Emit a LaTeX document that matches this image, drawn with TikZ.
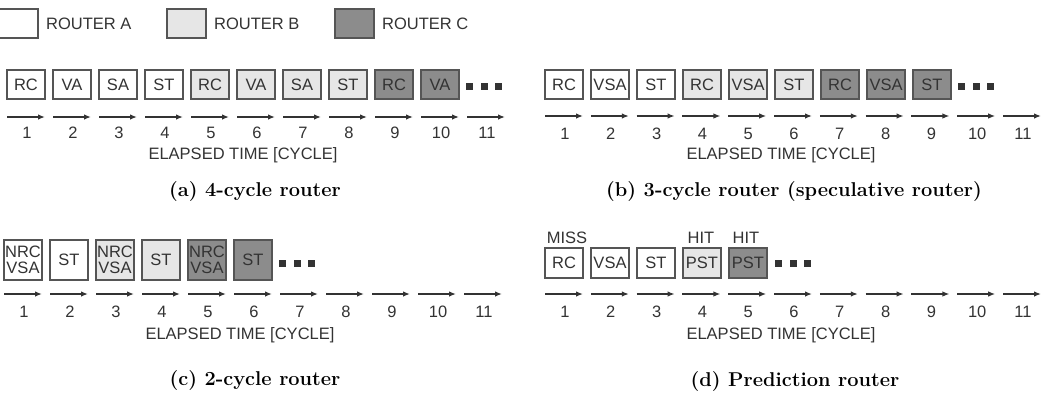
\documentclass[tikz,border=0pt]{standalone}
\usepackage{fontspec}
\setsansfont{Liberation Sans}
\usetikzlibrary{arrows.meta, positioning}
\definecolor{routerb}{HTML}{E6E6E6}
\definecolor{routerc}{HTML}{8C8C8C}
\definecolor{edgegray}{HTML}{555555}
\definecolor{inkgray}{HTML}{333333}
\tikzset{
	stagea/.style={
			draw=edgegray,
			line width=1.7pt,
			fill=white,
			minimum width=38.5pt,
			minimum height=29.5pt,
			inner sep=0pt,
			align=center,
			text=inkgray,
			font=\sffamily\fontsize{16.5}{16.5}\selectfont
		},
	stageb/.style={
			stagea,
			fill=routerb
		},
	stagec/.style={
			stagea,
			fill=routerc,
			text=black!80
		},
	tallstage/.style={
			minimum height=40.5pt
		},
	dotsq/.style={
			fill=inkgray,
			minimum size=7pt,
			inner sep=0pt
		},
	timearrow/.style={
			line width=1.3pt,
			draw=inkgray,
			-{Latex[length=7pt,width=5.5pt]}
		},
	plainlabel/.style={
			inner sep=0pt,
			text=inkgray,
			font=\sffamily\fontsize{16.5}{16.5}\selectfont
		},
	captionlabel/.style={
			inner sep=0pt,
			font=\bfseries\fontsize{20}{22}\selectfont
		}
}
\begin{document}
\begin{tikzpicture}[x=1pt, y=-1pt]
\useasboundingbox (0,0) rectangle (1052,413);

% legend
\node[stagea] (lega) at (18.5,23.5) {};
\node[plainlabel, anchor=west] (legatext) at (46,24) {ROUTER A};
\node[stageb] (legb) at (186.5,23.5) {};
\node[plainlabel, anchor=west] (legbtext) at (214,24) {ROUTER B};
\node[stagec] (legc) at (354.5,23.5) {};
\node[plainlabel, anchor=west] (legctext) at (382,24) {ROUTER C};

% (a)
\foreach \lbl/\sty [count=\i] in {RC/stagea, VA/stagea, SA/stagea, ST/stagea,
  RC/stageb, VA/stageb, SA/stageb, ST/stageb, RC/stagec, VA/stagec}
  \node[\sty] (a\i) at ({26+46*(\i-1)},84.5) {\lbl};
\foreach \k in {0,1,2}
  \node[dotsq] (adot\k) at ({469.5+14.5*\k},86) {};
\foreach \i in {1,...,11} {
  \coordinate (as\i) at ({7+46*(\i-1)},117);
  \coordinate (ae\i) at ({45+46*(\i-1)},117);
  \draw[timearrow] (as\i) -- (ae\i);
  \node[plainlabel] (anum\i) at ({27+46*(\i-1)},133) {\i};
}
\node[plainlabel] (atime) at (243,155) {ELAPSED TIME [CYCLE]};
\node[captionlabel] (acap) at (255,192) {(a) 4-cycle router};

% (b)
\foreach \lbl/\sty [count=\i] in {RC/stagea, VSA/stagea, ST/stagea,
  RC/stageb, VSA/stageb, ST/stageb, RC/stagec, VSA/stagec, ST/stagec}
  \node[\sty] (b\i) at ({564+46*(\i-1)},84.5) {\lbl};
\foreach \k in {0,1,2}
  \node[dotsq] (bdot\k) at ({961.5+14.5*\k},86) {};
\foreach \i in {1,...,11} {
  \coordinate (bs\i) at ({545+45.8*(\i-1)},116);
  \coordinate (be\i) at ({583+45.8*(\i-1)},116);
  \draw[timearrow] (bs\i) -- (be\i);
  \node[plainlabel] (bnum\i) at ({565+45.8*(\i-1)},134) {\i};
}
\node[plainlabel] (btime) at (781,155) {ELAPSED TIME [CYCLE]};
\node[captionlabel] (bcap) at (794,192) {(b) 3-cycle router (speculative router)};

% (c)
\foreach \lbl/\sty [count=\i] in {{NRC\\VSA}/stagea, ST/stagea,
  {NRC\\VSA}/stageb, ST/stageb, {NRC\\VSA}/stagec, ST/stagec}
  \node[\sty, tallstage] (c\i) at ({23+46*(\i-1)},260) {\lbl};
\foreach \k in {0,1,2}
  \node[dotsq] (cdot\k) at ({282.5+14.5*\k},263) {};
\foreach \i in {1,...,11} {
  \coordinate (cs\i) at ({4+46*(\i-1)},294);
  \coordinate (ce\i) at ({42+46*(\i-1)},294);
  \draw[timearrow] (cs\i) -- (ce\i);
  \node[plainlabel] (cnum\i) at ({24+46*(\i-1)},312) {\i};
}
\node[plainlabel] (ctime) at (240,335) {ELAPSED TIME [CYCLE]};
\node[captionlabel] (ccap) at (255,381) {(c) 2-cycle router};

% (d)
\foreach \lbl/\sty [count=\i] in {RC/stagea, VSA/stagea, ST/stagea, PST/stageb, PST/stagec}
  \node[\sty] (d\i) at ({564+46*(\i-1)},263) {\lbl};
\foreach \k in {0,1,2}
  \node[dotsq] (ddot\k) at ({778.5+14.5*\k},263) {};
\node[plainlabel] (dmiss) at (567,238) {MISS};
\node[plainlabel] (dhita) at (701,238) {HIT};
\node[plainlabel] (dhitb) at (746,238) {HIT};
\foreach \i in {1,...,11} {
  \coordinate (ds\i) at ({545+45.8*(\i-1)},294);
  \coordinate (de\i) at ({583+45.8*(\i-1)},294);
  \draw[timearrow] (ds\i) -- (de\i);
  \node[plainlabel] (dnum\i) at ({565+45.8*(\i-1)},312) {\i};
}
\node[plainlabel] (dtime) at (781,335) {ELAPSED TIME [CYCLE]};
\node[captionlabel] (dcap) at (795,382) {(d) Prediction router};
\end{tikzpicture}
\end{document}
